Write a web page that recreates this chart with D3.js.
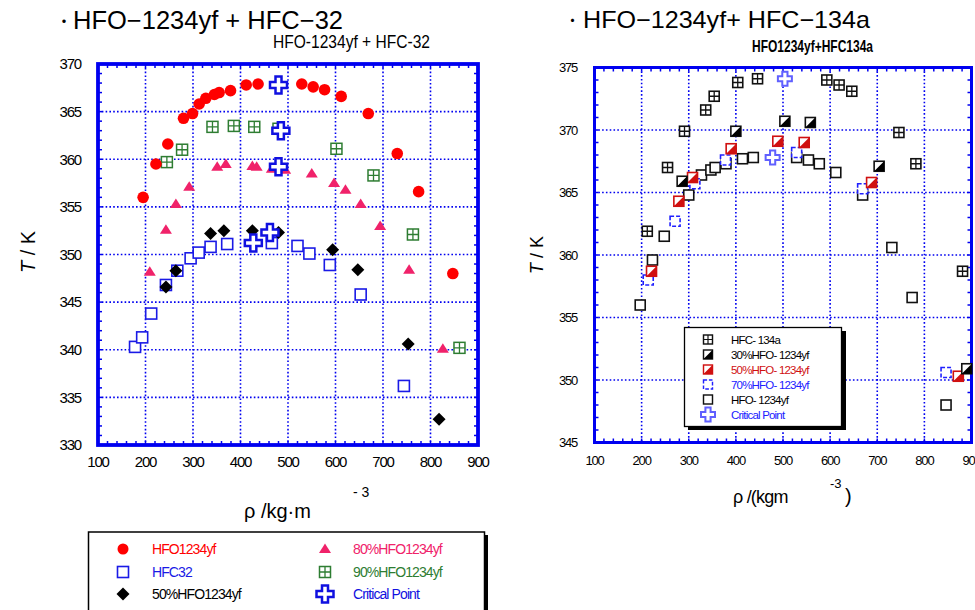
<!DOCTYPE html>
<html><head><meta charset="utf-8">
<script src="https://cdn.jsdelivr.net/npm/d3@7"></script>
<style>body{margin:0;background:#fff}svg{display:block}</style>
</head><body><svg id="c" width="975" height="610"></svg>
<script>
// ---------- LEFT PANEL: HFO-1234yf + HFC-32 ----------
const leftXTicks = [100,200,300,400,500,600,700,800,900];
const leftYTicks = [330,335,340,345,350,355,360,365,370];

const hfoRho = [195,222,247,280,299,313,327,345,355,379,412,437,529,553,577,612,669,730,775,847];
const hfoT   = [356.0,359.5,361.6,364.3,364.8,365.8,366.4,366.8,367.0,367.2,367.8,367.9,367.9,367.6,367.3,366.6,364.8,360.6,356.6,348.0];

const hfc32Rho = [178,193,212,243,267,295,312,337,372,466,520,545,588,653,744];
const hfc32T   = [340.3,341.3,343.8,346.8,348.3,349.6,350.2,350.8,351.1,351.2,350.9,350.1,348.9,345.8,336.2];

const p50Rho = [243,264,337,365,425,480,594,647,753,818];
const p50T   = [346.6,348.3,352.2,352.5,352.5,352.3,350.5,348.4,340.6,332.7];

const p80Rho = [209,243,264,292,351,369,425,434,466,494,550,597,621,653,694,755,826];
const p80T   = [348.2,352.6,355.3,357.1,359.2,359.5,359.3,359.2,359.0,358.9,358.5,357.5,356.8,355.3,353.0,348.4,340.1];

const p90Rho = [245,277,341,386,429,480,602,680,763,861];
const p90T   = [359.7,361.0,363.4,363.5,363.4,363.2,361.1,358.3,352.1,340.2];

const critLRho = [480,485,480,427,462];
const critLT   = [367.8,363.0,359.2,351.2,352.3];

const leftLegend = ["HFO1234yf","HFC32","50%HFO1234yf","80%HFO1234yf","90%HFO1234yf","Critical Point"];

// ---------- RIGHT PANEL: HFO-1234yf + HFC-134a ----------
const rightXTicks = [100,200,300,400,500,600,700,800,900];
const rightYTicks = [345,350,355,360,365,370,375];

const r134Rho = [212,255,291,336,354,404,446,593,619,646,746,782,881];
const r134T   = [361.9,367.0,369.9,371.6,372.7,373.8,374.1,374.0,373.6,373.1,369.8,367.3,358.7];

const r30Rho = [286,400,504,558,704,890];
const r30T   = [365.9,369.9,370.7,370.6,367.1,350.9];

const r50Rho = [221,279,308,390,489,545,688,872];
const r50T   = [358.7,364.3,366.2,368.5,369.1,369.0,365.8,350.3];

const r70Rho = [214,271,313,378,529,669,846];
const r70T   = [358.0,362.7,365.7,367.6,368.2,365.3,350.6];

const rHfoRho = [197,223,248,300,327,347,356,379,414,437,529,554,577,612,669,731,774,846];
const rHfoT   = [356.0,359.6,361.5,364.8,366.4,366.8,367.0,367.3,367.7,367.8,367.8,367.6,367.3,366.6,364.8,360.6,356.6,348.0];

const critRRho = [478,504];
const critRT   = [367.8,374.1];

const rightLegend = ["HFC- 134a","30%HFO- 1234yf","50%HFO- 1234yf","70%HFO- 1234yf","HFO- 1234yf","Critical Point"];

// ---------- helpers ----------
const svg = d3.select("#c");
const BLUE = "#0000f0";
const FONT = "'Liberation Sans', Arial, sans-serif";

function crossPath(L,a){
  return `M${-a},${-L}H${a}V${-a}H${L}V${a}H${a}V${L}H${-a}V${a}H${-L}V${-a}H${-a}Z`;
}

function panel(o){
  const x = d3.scaleLinear().domain(o.xd).range([o.x0,o.x1]);
  const y = d3.scaleLinear().domain(o.yd).range([o.y1,o.y0]);
  const g = svg.append("g");
  g.append("g").selectAll("line").data(o.xTicks.slice(1,-1)).join("line")
    .attr("x1",d=>x(d)).attr("x2",d=>x(d)).attr("y1",o.y0).attr("y2",o.y1)
    .attr("stroke",BLUE).attr("stroke-width",1.6).attr("stroke-dasharray","1.6,2.2");
  g.append("g").selectAll("line").data(o.yTicks.slice(1,-1)).join("line")
    .attr("y1",d=>y(d)).attr("y2",d=>y(d)).attr("x1",o.x0).attr("x2",o.x1)
    .attr("stroke",BLUE).attr("stroke-width",1.6).attr("stroke-dasharray","1.6,2.2");
  const xm = d3.range(o.xd[0],o.xd[1]+0.001,o.xMinor);
  const ym = d3.range(o.yd[0],o.yd[1]+0.001,o.yMinor);
  const tl = o.tickLen;
  g.append("g").selectAll("line").data(xm).join("line")
    .attr("x1",d=>x(d)).attr("x2",d=>x(d)).attr("y1",o.y1).attr("y2",o.y1-tl)
    .attr("stroke",BLUE).attr("stroke-width",1.5);
  g.append("g").selectAll("line").data(xm).join("line")
    .attr("x1",d=>x(d)).attr("x2",d=>x(d)).attr("y1",o.y0).attr("y2",o.y0+tl)
    .attr("stroke",BLUE).attr("stroke-width",1.5);
  g.append("g").selectAll("line").data(ym).join("line")
    .attr("y1",d=>y(d)).attr("y2",d=>y(d)).attr("x1",o.x0).attr("x2",o.x0+tl)
    .attr("stroke",BLUE).attr("stroke-width",1.5);
  g.append("g").selectAll("line").data(ym).join("line")
    .attr("y1",d=>y(d)).attr("y2",d=>y(d)).attr("x1",o.x1).attr("x2",o.x1-tl)
    .attr("stroke",BLUE).attr("stroke-width",1.5);
  g.append("rect").attr("x",o.x0).attr("y",o.y0).attr("width",o.x1-o.x0).attr("height",o.y1-o.y0)
    .attr("fill","none").attr("stroke",BLUE).attr("stroke-width",o.frameW);
  g.append("g").selectAll("text").data(o.xTicks).join("text")
    .attr("x",d=>x(d)).attr("y",o.xLabY).attr("text-anchor","middle")
    .attr("font-family",FONT).attr("font-size",o.tickFs).attr("letter-spacing",-1.2)
    .text(d=>d);
  g.append("g").selectAll("text").data(o.yTicks).join("text")
    .attr("x",o.yLabX).attr("y",d=>y(d)+o.tickFs*0.35).attr("text-anchor","end")
    .attr("font-family",FONT).attr("font-size",o.tickFs).attr("letter-spacing",-1.2)
    .text(d=>d);
  return {x,y,g};
}

// ---------- LEFT ----------
const L = panel({x0:98,x1:478,y0:64,y1:445,xd:[100,900],yd:[330,370],
  xTicks:leftXTicks,yTicks:leftYTicks,xMinor:20,yMinor:1,tickLen:4,frameW:3.8,
  tickFs:15,xLabY:467,yLabX:81});

function pts(p,rho,T){ return rho.map((r,i)=>[p.x(r),p.y(T[i])]); }

const lg = L.g.append("g");
lg.append("g").selectAll("rect").data(pts(L,hfc32Rho,hfc32T)).join("rect")
  .attr("x",d=>d[0]-5.5).attr("y",d=>d[1]-5.5).attr("width",11).attr("height",11)
  .attr("fill","#fff").attr("stroke","#1a1ae6").attr("stroke-width",1.6);
const g90 = lg.append("g").selectAll("g").data(pts(L,p90Rho,p90T)).join("g")
  .attr("transform",d=>`translate(${d[0]},${d[1]})`);
g90.append("rect").attr("x",-5.5).attr("y",-5.5).attr("width",11).attr("height",11)
  .attr("fill","#fff").attr("stroke","#2e7d32").attr("stroke-width",1.5);
g90.append("path").attr("d","M0,-5.5V5.5M-5.5,0H5.5").attr("stroke","#2e7d32").attr("stroke-width",1.3);
lg.append("g").selectAll("circle").data(pts(L,hfoRho,hfoT)).join("circle")
  .attr("cx",d=>d[0]).attr("cy",d=>d[1]).attr("r",5.8).attr("fill","#ff0000");
lg.append("g").selectAll("path").data(pts(L,p80Rho,p80T)).join("path")
  .attr("transform",d=>`translate(${d[0]},${d[1]})`)
  .attr("d","M0,-5.5L6,4L-6,4Z").attr("fill","#f0226a");
lg.append("g").selectAll("path").data(pts(L,p50Rho,p50T)).join("path")
  .attr("transform",d=>`translate(${d[0]},${d[1]})`)
  .attr("d","M0,-6.5L6.5,0L0,6.5L-6.5,0Z").attr("fill","#000");
lg.append("g").selectAll("path").data(pts(L,critLRho,critLT)).join("path")
  .attr("transform",d=>`translate(${d[0]},${d[1]})`)
  .attr("d",crossPath(8.5,3)).attr("fill","#fff").attr("stroke","#1010e0").attr("stroke-width",2.5);

// left texts
svg.append("text").attr("x",56).attr("y",27).attr("font-family","'Noto Sans CJK JP'").attr("font-size",16).text("・");
svg.append("text").attr("x",73).attr("y",29).attr("font-family",FONT).attr("font-size",25)
  .attr("textLength",270).attr("lengthAdjust","spacingAndGlyphs").text("HFO−1234yf + HFC−32");
svg.append("text").attr("x",273).attr("y",48).attr("font-family",FONT).attr("font-size",18)
  .attr("textLength",157).attr("lengthAdjust","spacingAndGlyphs").text("HFO-1234yf + HFC-32");
svg.append("text").attr("transform","translate(35,252) rotate(-90)").attr("text-anchor","middle")
  .attr("font-family",FONT).attr("font-size",20)
  .call(t=>{t.append("tspan").attr("font-style","italic").text("T");t.append("tspan").text(" / K");});
svg.append("text").attr("x",244).attr("y",518).attr("font-family",FONT).attr("font-size",20).text("ρ /kg·m");
svg.append("text").attr("x",353).attr("y",497).attr("font-family",FONT).attr("font-size",14).text("- 3");

// left legend
const lL = svg.append("g");
lL.append("rect").attr("x",92).attr("y",535).attr("width",396).attr("height",80).attr("fill","#000");
lL.append("rect").attr("x",88.5).attr("y",532).attr("width",396).attr("height",80).attr("fill","#fff").attr("stroke","#000").attr("stroke-width",1.5);
const legCol = ["#ff0000","#1a1ae6","#000","#f0226a","#2e7d32","#1010e0"];
const legX = [123,123,123,325,325,325], legTx=[152,152,152,353,353,353], legY=[549,572,594,549,572,594];
leftLegend.forEach((s,i)=>{
  lL.append("text").attr("x",legTx[i]).attr("y",legY[i]+5).attr("font-family",FONT).attr("font-size",14)
    .attr("letter-spacing",-0.9).attr("fill",legCol[i]).text(s);
  const sg = lL.append("g").attr("transform",`translate(${legX[i]},${legY[i]})`);
  if(i===0) sg.append("circle").attr("r",5.5).attr("fill","#ff0000");
  if(i===1) sg.append("rect").attr("x",-5.5).attr("y",-5.5).attr("width",11).attr("height",11).attr("fill","#fff").attr("stroke","#1a1ae6").attr("stroke-width",1.6);
  if(i===2) sg.append("path").attr("d","M0,-6.5L6.5,0L0,6.5L-6.5,0Z").attr("fill","#000");
  if(i===3) sg.append("path").attr("d","M0,-5.5L6,4L-6,4Z").attr("fill","#f0226a");
  if(i===4){ sg.append("rect").attr("x",-5.5).attr("y",-5.5).attr("width",11).attr("height",11).attr("fill","#fff").attr("stroke","#2e7d32").attr("stroke-width",1.5);
    sg.append("path").attr("d","M0,-5.5V5.5M-5.5,0H5.5").attr("stroke","#2e7d32").attr("stroke-width",1.3);}
  if(i===5) sg.append("path").attr("d",crossPath(8.5,3)).attr("fill","#fff").attr("stroke","#1010e0").attr("stroke-width",2.5);
});

// ---------- RIGHT ----------
const R = panel({x0:594.5,x1:971.5,y0:67.5,y1:442.5,xd:[100,900],yd:[345,375],
  xTicks:rightXTicks,yTicks:rightYTicks,xMinor:20,yMinor:1,tickLen:4,frameW:3,
  tickFs:13,xLabY:465,yLabX:577});

const rg = R.g.append("g");
function sq(sel,stroke,w){ return sel.append("rect").attr("x",-5).attr("y",-5).attr("width",10).attr("height",10).attr("fill","#fff").attr("stroke",stroke).attr("stroke-width",w); }
function symR(sel,k){
  if(k===0){ sq(sel,"#111",1.6); sel.append("path").attr("d","M0,-5V5M-5,0H5").attr("stroke","#111").attr("stroke-width",1.3); }
  if(k===1){ sq(sel,"#111",1.6); sel.append("path").attr("d","M-5,5L5,-5L5,5Z").attr("fill","#000"); }
  if(k===2){ sq(sel,"#d01010",1.6); sel.append("path").attr("d","M-5,5L5,-5L5,5Z").attr("fill","#d01010"); }
  if(k===3){ sq(sel,"#2020ff",1.6).attr("stroke-dasharray","4,2"); }
  if(k===4){ sq(sel,"#111",1.6); }
  if(k===5){ sel.append("path").attr("d",crossPath(7,2.6)).attr("fill","#fff").attr("stroke","#6060ff").attr("stroke-width",2); }
}
const rSeries = [[rHfoRho,rHfoT,4],[r70Rho,r70T,3],[r50Rho,r50T,2],[r30Rho,r30T,1],[r134Rho,r134T,0],[critRRho,critRT,5]];
rSeries.forEach(([rho,T,k])=>{
  rg.append("g").selectAll("g").data(pts(R,rho,T)).join("g")
    .attr("transform",d=>`translate(${d[0]},${d[1]})`).each(function(){symR(d3.select(this),k);});
});

svg.append("text").attr("x",565).attr("y",26).attr("font-family","'Noto Sans CJK JP'").attr("font-size",15).text("・");
svg.append("text").attr("x",583).attr("y",28).attr("font-family",FONT).attr("font-size",24)
  .attr("textLength",287).attr("lengthAdjust","spacingAndGlyphs").text("HFO−1234yf+ HFC−134a");
svg.append("text").attr("x",752).attr("y",52).attr("font-family",FONT).attr("font-size",17).attr("font-weight","bold")
  .attr("textLength",121).attr("lengthAdjust","spacingAndGlyphs").text("HFO1234yf+HFC134a");
svg.append("text").attr("transform","translate(543,255) rotate(-90)").attr("text-anchor","middle")
  .attr("font-family",FONT).attr("font-size",18)
  .call(t=>{t.append("tspan").attr("font-style","italic").text("T");t.append("tspan").text(" / K");});
svg.append("text").attr("x",733).attr("y",503).attr("font-family",FONT).attr("font-size",18).attr("letter-spacing",-0.8).text("ρ /(kgm");
svg.append("text").attr("x",830).attr("y",488).attr("font-family",FONT).attr("font-size",13).text("-3");
svg.append("text").attr("x",845).attr("y",503).attr("font-family",FONT).attr("font-size",20).text(")");

// right legend
const rL = svg.append("g");
rL.append("rect").attr("x",688).attr("y",331).attr("width",158).attr("height",99).attr("fill","#000");
rL.append("rect").attr("x",684.5).attr("y",327.5).attr("width",157).attr("height",99).attr("fill","#fff").attr("stroke","#000").attr("stroke-width",1.3);
const rCol = ["#000","#000","#d01010","#2020ff","#000","#2020ff"];
rightLegend.forEach((s,i)=>{
  const yy = 339.5 + i*15;
  const sg = rL.append("g").attr("transform",`translate(708,${yy})`);
  if(i===5) sg.append("path").attr("d",crossPath(7,2.6)).attr("fill","#fff").attr("stroke","#6060ff").attr("stroke-width",2);
  else { const s2 = sg.append("g").attr("transform","scale(0.9)"); symR(s2,i); }
  rL.append("text").attr("x",731).attr("y",yy+4).attr("font-family",FONT).attr("font-size",11.5)
    .attr("letter-spacing",-0.8).attr("fill",rCol[i]).text(s);
});
</script></body></html>
